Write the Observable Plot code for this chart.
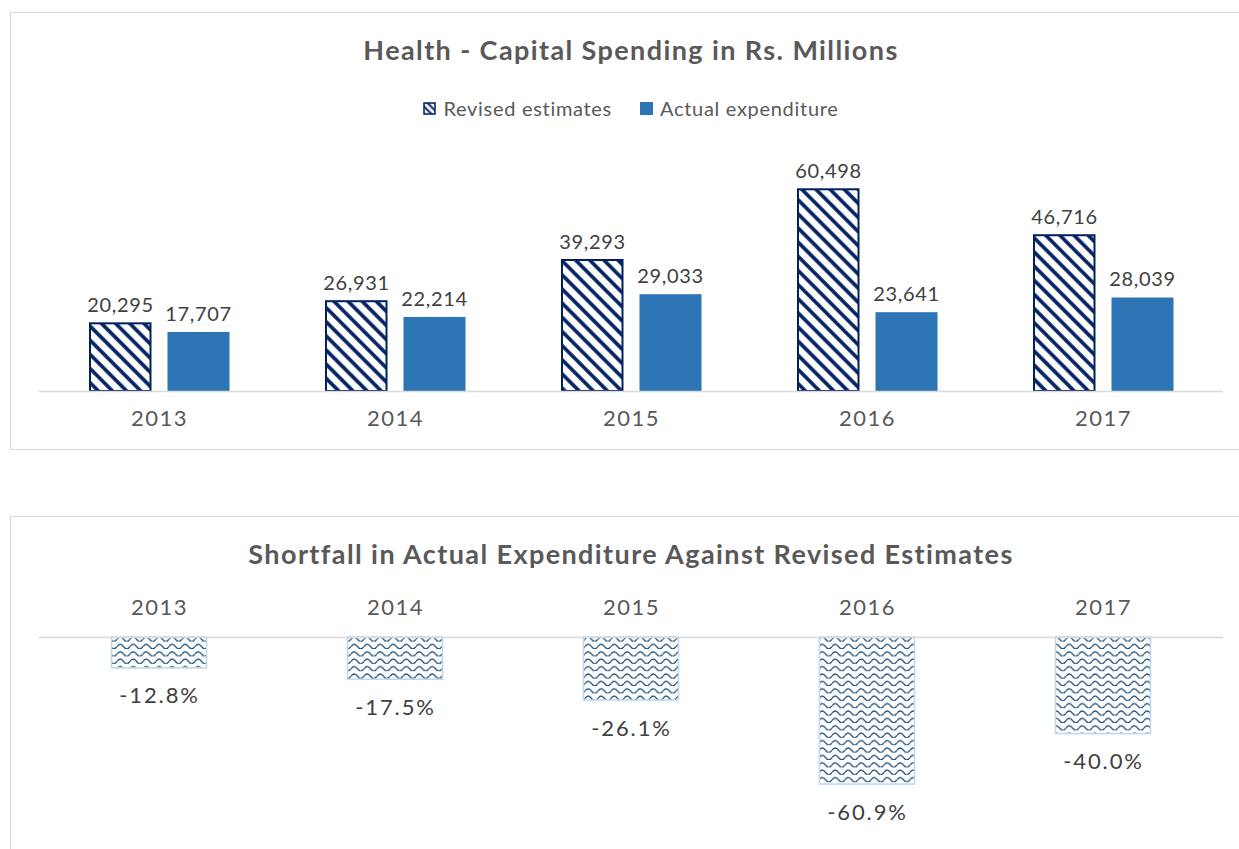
<!DOCTYPE html>
<html>
<head>
<meta charset="utf-8">
<script src="https://cdn.jsdelivr.net/npm/d3@7"></script>
<script src="https://cdn.jsdelivr.net/npm/@observablehq/plot@0.6"></script>
<style>
  html, body { margin: 0; padding: 0; background: #fff; }
  body { width: 1239px; height: 849px; position: relative; overflow: hidden; font-family: Lato, "Open Sans", sans-serif; color: #595959; }
  .panel { position: absolute; left: 10px; width: 1260px; border: 1.5px solid #d9d9d9; box-sizing: border-box; }
  .title { position: absolute; left: 0; width: 1262px; text-align: center; font-weight: bold; font-size: 27px; letter-spacing: 1.4px; color: #595959; }
  .legend { position: absolute; left: 0; width: 1262px; display: flex; justify-content: center; gap: 28px; font-size: 20px; letter-spacing: 0.7px; color: #595959; }
  .legend .item { display: flex; align-items: center; gap: 7px; }
  .chart { position: absolute; left: 0; }
  g[aria-label="x-axis tick label"] text { letter-spacing: 1.5px; }
  #top g[aria-label="text"] text { letter-spacing: 0.7px; }
  #bottom g[aria-label="text"] text { letter-spacing: 1.9px; }
</style>
</head>
<body>
<svg width="0" height="0" style="position:absolute">
  <defs>
    <pattern id="hatch" patternUnits="userSpaceOnUse" width="10" height="10" patternTransform="rotate(45)">
      <rect width="10" height="10" fill="#fff"/>
      <line x1="0" y1="5" x2="10" y2="5" stroke="#002060" stroke-width="3.6"/>
    </pattern>
    <pattern id="hatchSmall" patternUnits="userSpaceOnUse" width="5" height="5" patternTransform="rotate(45)">
      <rect width="5" height="5" fill="#fff"/>
      <line x1="0" y1="2.5" x2="5" y2="2.5" stroke="#002060" stroke-width="2"/>
    </pattern>
    <pattern id="wave" patternUnits="userSpaceOnUse" width="13" height="7.4">
      <rect width="13" height="7.4" fill="#fff"/>
      <path d="M0,5 Q3.25,0.5 6.5,5 T13,5" fill="none" stroke="#1f4e79" stroke-width="1.3"/>
    </pattern>
  </defs>
</svg>

<div class="panel" style="top:12px;height:438px;"></div>
<div class="title" style="top:33px;">Health - Capital Spending in Rs. Millions</div>
<div class="legend" style="top:96px;">
  <div class="item"><svg width="13" height="13"><rect x="1" y="1" width="11" height="11" fill="url(#hatchSmall)" stroke="#002060" stroke-width="1.5"/></svg><span id="lg1"></span></div>
  <div class="item"><svg width="13" height="13"><rect x="0" y="0" width="13" height="13" fill="#2e75b6"/></svg><span id="lg2"></span></div>
</div>
<div id="top" class="chart" style="top:130px;"></div>

<div class="panel" style="top:516px;height:360px;"></div>
<div class="title" style="top:537px;">Shortfall in Actual Expenditure Against Revised Estimates</div>
<div id="bottom" class="chart" style="top:575px;"></div>

<script>
const years = ["2013", "2014", "2015", "2016", "2017"];
const revised = [20295, 26931, 39293, 60498, 46716];
const actual = [17707, 22214, 29033, 23641, 28039];
const shortfall = [-12.8, -17.5, -26.1, -60.9, -40.0];
const seriesNames = ["Revised estimates", "Actual expenditure"];

document.getElementById("lg1").textContent = seriesNames[0];
document.getElementById("lg2").textContent = seriesNames[1];

const revData = years.map((y, i) => ({year: y, value: revised[i]}));
const actData = years.map((y, i) => ({year: y, value: actual[i]}));
const shortData = years.map((y, i) => ({year: y, value: shortfall[i]}));

const fmt = d3.format(",");
const font = "Lato, 'Open Sans', sans-serif";

const topChart = Plot.plot({
  width: 1239,
  height: 310,
  marginLeft: 39,
  marginRight: 16,
  marginTop: 30,
  marginBottom: 49,
  style: {fontFamily: font, background: "transparent"},
  x: {domain: years, padding: 0, label: null},
  y: {domain: [0, 69280], axis: null},
  marks: [
    Plot.barY(revData, {x: "year", y: "value", fill: "url(#hatch)", stroke: "#002060", strokeWidth: 2, insetLeft: 49, insetRight: 126.5}),
    Plot.barY(actData, {x: "year", y: "value", fill: "#2e75b6", insetLeft: 126.5, insetRight: 47.5}),
    Plot.text(revData, {x: "year", y: "value", text: d => fmt(d.value), dx: -39, dy: -18, fontSize: 20, fill: "#404040"}),
    Plot.text(actData, {x: "year", y: "value", text: d => fmt(d.value), dx: 39, dy: -18, fontSize: 20, fill: "#404040"}),
    Plot.ruleY([0], {stroke: "#d9d9d9", strokeWidth: 1.5}),
    Plot.axisX({tickSize: 0, tickPadding: 19, fontSize: 22, color: "#595959", label: null})
  ]
});
document.getElementById("top").append(topChart);

const bottomChart = Plot.plot({
  width: 1239,
  height: 274,
  marginLeft: 39,
  marginRight: 16,
  marginTop: 62,
  marginBottom: 0,
  style: {fontFamily: font, background: "transparent"},
  x: {domain: years, padding: 0, label: null},
  y: {domain: [-87.8, 0], axis: null},
  marks: [
    Plot.barY(shortData, {x: "year", y: "value", fill: "url(#wave)", stroke: "#bdd7ee", strokeWidth: 1.5, insetLeft: 70.5, insetRight: 70.5}),
    Plot.text(shortData, {x: "year", y: "value", text: d => d.value.toFixed(1) + "%", dy: 28, fontSize: 22, fill: "#404040"}),
    Plot.ruleY([0], {stroke: "#d9d9d9", strokeWidth: 1.5}),
    Plot.axisX({anchor: "top", tickSize: 0, tickPadding: 23, fontSize: 22, color: "#595959", label: null})
  ]
});
document.getElementById("bottom").append(bottomChart);
</script>
</body>
</html>
